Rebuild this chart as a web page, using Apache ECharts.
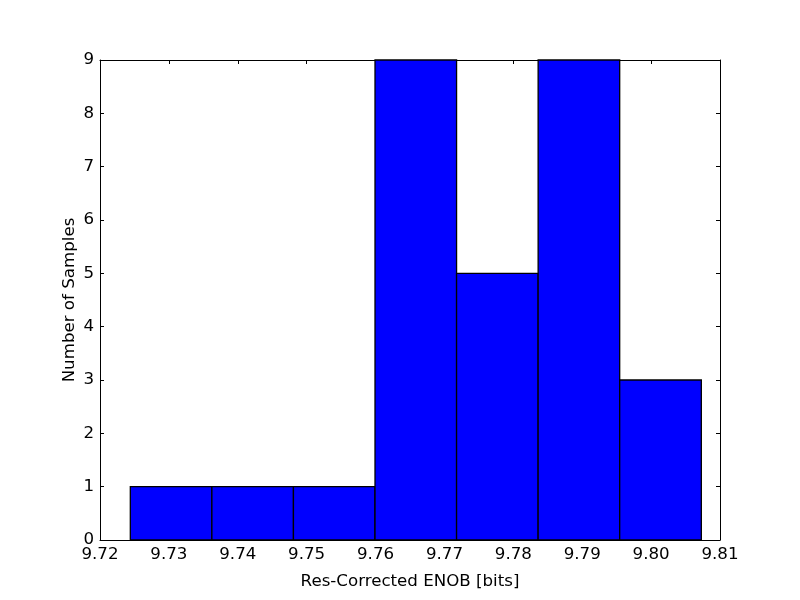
<!DOCTYPE html>
<html><head><meta charset="utf-8">
<script src="https://cdn.jsdelivr.net/npm/echarts@6/dist/echarts.min.js"></script>
<style>html,body{margin:0;padding:0;background:#fff}#c{width:800px;height:600px}</style>
</head><body><div id="c"></div>
<script>
const binEdges = [9.72440, 9.73624, 9.74808, 9.75992, 9.77176, 9.78360, 9.79544, 9.80729];
const counts = [1, 1, 1, 9, 5, 9, 3];
const xTicks = [9.72, 9.73, 9.74, 9.75, 9.76, 9.77, 9.78, 9.79, 9.80, 9.81];
const yTicks = [0, 1, 2, 3, 4, 5, 6, 7, 8, 9];
const xName = 'Res-Corrected ENOB [bits]';
const yName = 'Number of Samples';

const data = counts.map((c, i) => [binEdges[i], binEdges[i + 1], c]);
const font = 'DejaVu Sans';
const fs = 16.67;
const chart = echarts.init(document.getElementById('c'), null, {renderer: 'canvas'});
const axisCommon = {
  axisLine: {show: true, onZero: false, lineStyle: {color: '#000', width: 1}},
  axisTick: {show: true, inside: true, length: 4, lineStyle: {color: '#000', width: 1}},
  splitLine: {show: false}
};
chart.setOption({
  animation: false,
  backgroundColor: '#fff',
  grid: {left: 100, right: 80, top: 60, bottom: 60, containLabel: false},
  xAxis: [
    Object.assign({
      type: 'value', min: xTicks[0], max: xTicks[xTicks.length - 1], interval: 0.01, position: 'bottom',
      name: xName, nameLocation: 'middle', nameGap: 33, nameMoveOverlap: false,
      nameTextStyle: {fontFamily: font, fontSize: fs, color: '#000'},
      axisLabel: {show: true, margin: 6, fontFamily: font, fontSize: fs, color: '#000',
        formatter: v => v.toFixed(2)}
    }, axisCommon),
    Object.assign({
      type: 'value', min: xTicks[0], max: xTicks[xTicks.length - 1], interval: 0.01, position: 'top',
      axisLabel: {show: false}
    }, axisCommon)
  ],
  yAxis: [
    Object.assign({
      type: 'value', min: yTicks[0], max: yTicks[yTicks.length - 1], interval: 1, position: 'left',
      name: yName, nameLocation: 'middle', nameGap: 22, nameMoveOverlap: false,
      nameTextStyle: {fontFamily: font, fontSize: fs, color: '#000'},
      axisLabel: {show: true, margin: 6, fontFamily: font, fontSize: fs, color: '#000'}
    }, axisCommon),
    Object.assign({
      type: 'value', min: yTicks[0], max: yTicks[yTicks.length - 1], interval: 1, position: 'right',
      axisLabel: {show: false}
    }, axisCommon)
  ],
  series: [{
    type: 'custom',
    xAxisIndex: 0, yAxisIndex: 0,
    data: data,
    encode: {x: [0, 1], y: 2},
    renderItem: function (params, api) {
      const p0 = api.coord([api.value(0), 0]);
      const p1 = api.coord([api.value(1), api.value(2)]);
      return {
        type: 'rect',
        shape: {x: p0[0], y: p1[1], width: p1[0] - p0[0], height: p0[1] - p1[1]},
        style: {fill: '#0000ff', stroke: '#000', lineWidth: 1.3}
      };
    }
  }]
});
</script></body></html>
